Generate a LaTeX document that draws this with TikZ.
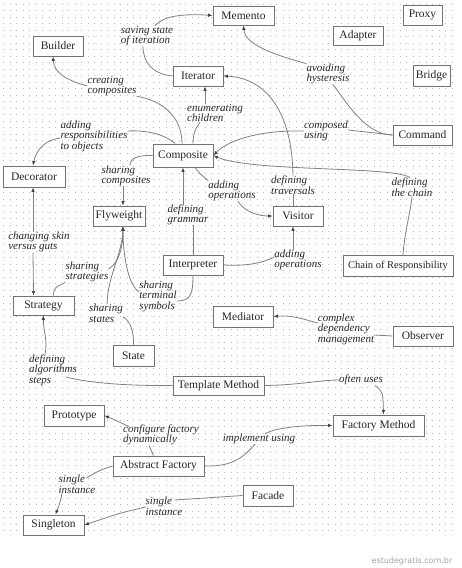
\documentclass[tikz,border=0pt]{standalone}
\usepackage{fontspec}
\setmainfont{Liberation Serif}
\newfontfamily\wmfont{DejaVu Sans}
\usetikzlibrary{arrows.meta}
\tikzset{
  box/.style={draw=black!55, fill=white, line width=0.9pt, inner sep=0pt,
    font=\fontsize{11.5}{12}\selectfont, text=black!85},
  lab/.style={inner sep=0pt, align=left, text=black!85,
    font=\fontsize{11}{10.5}\selectfont\itshape},
  conn/.style={draw=black!50, line width=0.8pt},
  arr/.style={conn, -{Latex[length=4.5pt,width=3.6pt,color=black!75]}},
  griddot/.style={draw=black!28, line width=0.8pt, dash pattern=on 0.8pt off 5.7pt}
}
\begin{document}
\begin{tikzpicture}[x=1pt,y=-1pt]
\useasboundingbox[fill=white] (0,0) rectangle (461,568);
% dotted grid
\foreach \y in {4,10.5,...,531} { \draw[griddot] (3,\y) -- (458,\y); }

% boxes
\node[box, minimum width=61pt, minimum height=19pt] (memento) at (243.5,15.5) {Memento};
\node[box, minimum width=39pt, minimum height=20pt] (proxy) at (422.5,15) {Proxy};
\node[box, minimum width=50pt, minimum height=19pt] (adapter) at (358,35.5) {Adapter};
\node[box, minimum width=37pt, minimum height=21pt] (bridge) at (431.5,75.5) {Bridge};
\node[box, minimum width=50pt, minimum height=20pt] (builder) at (58,46) {Builder};
\node[box, minimum width=50pt, minimum height=20pt] (iterator) at (198,76) {Iterator};
\node[box, minimum width=59pt, minimum height=20pt] (command) at (422.5,135) {Command};
\node[box, minimum width=60pt, minimum height=23pt] (composite) at (183,155.5) {Composite};
\node[box, minimum width=62pt, minimum height=21pt] (decorator) at (34,176.5) {Decorator};
\node[box, minimum width=52pt, minimum height=20pt] (flyweight) at (119,216) {Flyweight};
\node[box, minimum width=50pt, minimum height=20pt] (visitor) at (298,216) {Visitor};
\node[box, minimum width=60pt, minimum height=20pt] (interpreter) at (193,265) {Interpreter};
\node[box, minimum width=110pt, minimum height=21pt, font=\fontsize{10.5}{11}\selectfont] (chain) at (398,265.5) {Chain of Responsibility};
\node[box, minimum width=61pt, minimum height=19pt] (strategy) at (43.5,305.5) {Strategy};
\node[box, minimum width=60pt, minimum height=21pt] (mediator) at (243,316.5) {Mediator};
\node[box, minimum width=60pt, minimum height=20pt] (observer) at (423,336) {Observer};
\node[box, minimum width=41pt, minimum height=21pt] (state) at (133.5,355.5) {State};
\node[box, minimum width=91pt, minimum height=19pt] (template) at (218.5,385.5) {Template Method};
\node[box, minimum width=60pt, minimum height=21pt] (prototype) at (74,415.5) {Prototype};
\node[box, minimum width=91pt, minimum height=21pt] (factory) at (378.5,425.5) {Factory Method};
\node[box, minimum width=91pt, minimum height=20pt] (abstract) at (158.5,466) {Abstract Factory};
\node[box, minimum width=50pt, minimum height=21pt] (facade) at (268,495.5) {Facade};
\node[box, minimum width=61pt, minimum height=20pt] (singleton) at (53.5,525) {Singleton};

% labels
\node[lab] (lsave) at (147,36) {saving state\\of iteration};
\node[lab] (lcreate) at (112,86) {creating\\composites};
\node[lab] (lenum) at (215,113) {enumerating\\children};
\node[lab] (ladd) at (94,136) {adding\\responsibilities\\to objects};
\node[lab] (lavoid) at (328,74) {avoiding\\hysteresis};
\node[lab] (lcomp) at (326,131) {composed\\using};
\node[lab] (lshcomp) at (126,176) {sharing\\composites};
\node[lab] (laddop) at (232,191) {adding\\operations};
\node[lab] (ltrav) at (293,185) {defining\\traversals};
\node[lab] (lchain) at (412,187) {defining\\the chain};
\node[lab] (lgram) at (188,215) {defining\\grammar};
\node[lab] (lskin) at (39,242) {changing skin\\versus guts};
\node[lab] (lshstrat) at (87,272) {sharing\\strategies};
\node[lab] (laddop2) at (298,260) {adding\\operations};
\node[lab] (lterm) at (158,296) {sharing\\terminal\\symbols};
\node[lab] (lshstate) at (106,313) {sharing\\states};
\node[lab] (lcomplex) at (346,329) {complex\\dependency\\management};
\node[lab] (lalgo) at (53,370) {defining\\algorithms\\steps};
\node[lab] (loften) at (361,380) {often uses};
\node[lab] (lconf) at (161,435) {configure factory\\dynamically};
\node[lab] (limpl) at (259,439) {implement using};
\node[lab] (lsingle1) at (77,484) {single\\instance};
\node[lab] (lsingle2) at (164,506) {single\\instance};

\node[font=\wmfont\fontsize{8}{8}\selectfont, text=black!35, inner sep=0pt] (wm) at (412,561) {estudegratis.com.br};

% connectors
\draw[conn] (iterator.west) .. controls (152,74) and (143,62) .. ([xshift=-4pt]lsave.south);
\draw[arr] ([xshift=8pt]lsave.north) .. controls (165,14) and (190,14) .. (memento.west);

\draw[conn] ([xshift=-1pt]composite.north) .. controls (182,115) and (160,100) .. (lcreate.south east);
\draw[arr] (lcreate.west) .. controls (65,80) and (54,72) .. ([xshift=-5pt]builder.south);

\draw[conn] ([xshift=10pt]composite.north) .. controls (193,130) and (198,126) .. ([xshift=-15pt]lenum.south);
\draw[arr] ([xshift=-10pt]lenum.north) .. controls (205,98) .. ([xshift=7pt]iterator.south);

\draw[conn] ([xshift=-8pt]composite.north) .. controls (165,134) and (145,130) .. ([yshift=5pt]ladd.east);
\draw[arr] ([yshift=-2pt]ladd.west) .. controls (45,140) and (36,150) .. ([xshift=-1pt]decorator.north);

\draw[conn] (command.west) .. controls (365,135) and (345,100) .. ([xshift=5pt]lavoid.south);
\draw[arr] (lavoid.north west) .. controls (275,55) and (245,45) .. (memento.south);

\draw[conn] (command.west) -- ([yshift=1pt]lcomp.east);
\draw[arr] (lcomp.west) .. controls (260,130) and (228,140) .. (composite.east);

\draw[conn] ([xshift=5pt]chain.north) .. controls (405,230) and (410,215) .. (lchain.south);
\draw[arr] ([xshift=-2pt]lchain.north) .. controls (395,166) and (250,172) .. (composite.east);

\draw[conn] ([xshift=-5pt]visitor.north) -- (ltrav.south);
\draw[arr] (ltrav.north) .. controls (292,110) and (265,78) .. (iterator.east);

\draw[conn] ([xshift=12pt]composite.south) .. controls (200,174) .. (laddop.north west);
\draw[arr] ([xshift=6pt]laddop.south) .. controls (245,212) and (258,216) .. (visitor.west);

\draw[conn] (composite.west) .. controls (138,155) and (130,158) .. ([xshift=4pt]lshcomp.north);
\draw[arr] ([xshift=-3pt]lshcomp.south) -- ([xshift=4pt]flyweight.north);

\draw[conn] (interpreter.north) -- ([xshift=5pt]lgram.south);
\draw[arr] ([xshift=-5pt]lgram.north) -- (composite.south);

\draw[conn] (interpreter.east) .. controls (245,266) and (260,264) .. ([yshift=3pt]laddop2.west);
\draw[arr] ([xshift=-5pt]laddop2.north) .. controls (293,240) .. ([xshift=-5pt]visitor.south);

\draw[arr] ([xshift=-6pt]lskin.north) -- ([xshift=-1pt]decorator.south);
\draw[arr] ([xshift=-6pt]lskin.south) -- ([xshift=-10pt]strategy.north);

\draw[conn] ([xshift=10pt]strategy.north) .. controls (54,288) .. (lshstrat.south west);
\draw[arr] ([yshift=3pt]lshstrat.east) .. controls (120,262) and (123,245) .. ([xshift=4pt]flyweight.south);

\draw[conn] (state.north) .. controls (134,332) and (130,320) .. ([yshift=-4pt]lshstate.east);
\draw[arr] ([xshift=1pt]lshstate.north) .. controls (108,275) and (122,255) .. ([xshift=4pt]flyweight.south);

\draw[conn] (interpreter.south) .. controls (193,295) and (190,301) .. ([yshift=-5pt]lterm.east);
\draw[arr] ([yshift=4pt]lterm.west) .. controls (128,285) and (123,255) .. ([xshift=4pt]flyweight.south);

\draw[conn] (observer.west) -- ([yshift=-6pt]lcomplex.east);
\draw[arr] ([yshift=6pt]lcomplex.west) .. controls (300,318) and (290,315) .. (mediator.east);

\draw[conn] (template.west) .. controls (120,386) and (85,382) .. ([xshift=-11pt,yshift=-7pt]lalgo.east);
\draw[arr] ([xshift=-8pt]lalgo.north) .. controls (48,340) and (43,330) .. (strategy.south);

\draw[conn] (template.east) .. controls (300,385) and (320,380) .. (loften.west);
\draw[arr] ([xshift=14pt]loften.south) .. controls (383,392) .. ([xshift=5pt]factory.north);

\draw[conn] ([xshift=-5pt]abstract.north) -- ([xshift=-12pt]lconf.south);
\draw[arr] ([xshift=6pt,yshift=-2pt]lconf.north west) .. controls (115,420) .. (prototype.east);

\draw[conn] (abstract.east) .. controls (235,467) and (245,455) .. ([xshift=-4pt]limpl.south);
\draw[arr] ([xshift=6pt]limpl.north) .. controls (275,428) and (300,425) .. (factory.west);

\draw[conn] (abstract.west) .. controls (100,470) .. ([xshift=-9pt,yshift=6pt]lsingle1.east);
\draw[arr] ([xshift=-15pt]lsingle1.south) .. controls (60,503) .. ([xshift=2pt]singleton.north);

\draw[conn] (facade.west) .. controls (220,497) .. ([xshift=-8pt,yshift=6pt]lsingle2.east);
\draw[arr] ([yshift=-1pt]lsingle2.west) .. controls (120,513) .. (singleton.east);
\end{tikzpicture}
\end{document}
